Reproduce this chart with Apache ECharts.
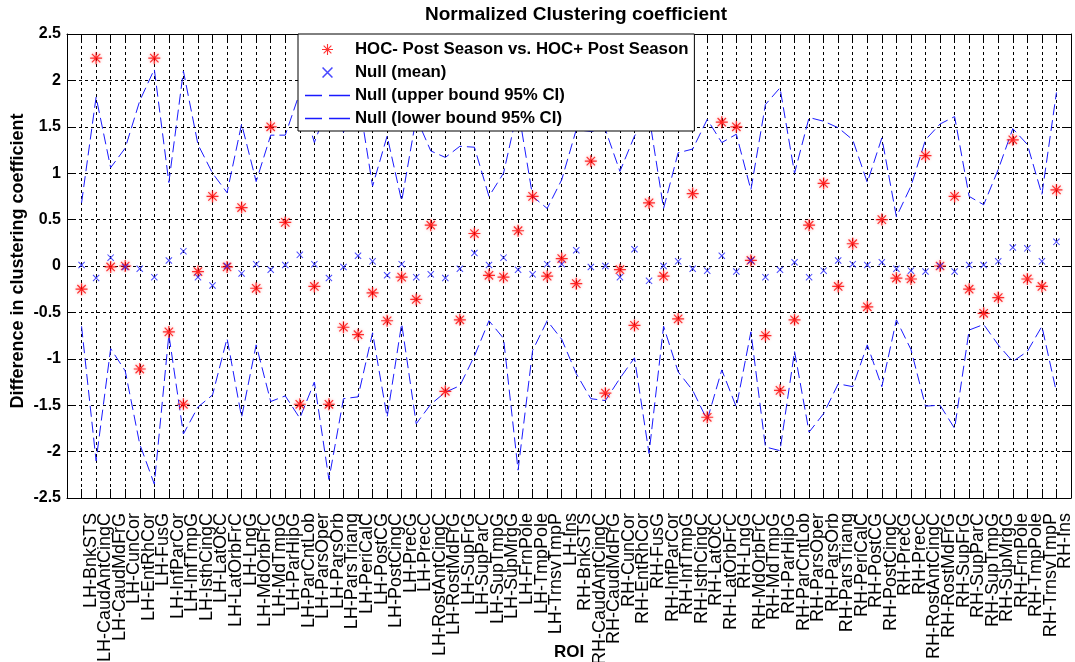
<!DOCTYPE html>
<html>
<head>
<meta charset="utf-8">
<title>Normalized Clustering coefficient</title>
<script src="https://cdn.jsdelivr.net/npm/echarts@6/dist/echarts.min.js"></script>
<style>
  html, body { margin: 0; padding: 0; background: #fff; }
  #chart { width: 1075px; height: 662px; }
</style>
</head>
<body>
<div id="chart"></div>
<script>
// ROI names (34 per hemisphere)
const regions = [
  'BnkSTS', 'CaudAntCingC', 'CaudMdFrG', 'CunCor', 'EntRhCor', 'FusG', 'InfParCor',
  'InfTmpG', 'IsthCingC', 'LatOcC', 'LatOrbFrC', 'LngG', 'MdOrbFrC', 'MdTmpG',
  'ParHipG', 'ParCntLob', 'ParsOper', 'ParsOrb', 'ParsTriang', 'PeriCalC', 'PostCG',
  'PostCingC', 'PrecG', 'PrecC', 'RostAntCingC', 'RostMdFrG', 'SupFrG', 'SupParC',
  'SupTmpG', 'SupMrgG', 'FrnPole', 'TmpPole', 'TrnsvTmpP', 'Ins'
]
const roiLabels = ['LH', 'RH'].flatMap((h) => regions.map((r) => h + '-' + r))

// HOC- Post Season vs. HOC+ Post Season
const hocDiff = [
  -0.25, 2.24, -0.01, 0.00, -1.11, 2.24, -0.71, -1.49, -0.06, 0.75, -0.01, 0.63, -0.24, 1.50,
  0.47, -1.49, -0.22, -1.49, -0.66, -0.74, -0.29, -0.59, -0.12, -0.36, 0.44, -1.35, -0.58, 0.35,
  -0.10, -0.12, 0.38, 0.75, -0.11, 0.08,
  -0.19, 1.13, -1.37, -0.04, -0.64, 0.68, -0.11, -0.57, 0.78, -1.63, 1.55, 1.50, 0.06, -0.75,
  -1.34, -0.58, 0.44, 0.89, -0.22, 0.24, -0.44, 0.50, -0.13, -0.14, 1.19, 0.00, 0.75, -0.25,
  -0.51, -0.34, 1.36, -0.14, -0.22, 0.82
]

// Null (mean)
const nullMean = [
  0.01, -0.13, 0.09, -0.01, -0.03, -0.12, 0.06, 0.16, -0.12, -0.21, 0.00, -0.08, 0.02, -0.04,
  0.01, 0.12, 0.02, -0.13, -0.01, 0.11, 0.05, -0.10, 0.02, -0.12, -0.09, -0.13, -0.03, 0.14,
  0.01, 0.09, -0.04, -0.09, 0.02, 0.02,
  0.17, -0.01, 0.00, -0.12, 0.18, -0.16, 0.00, 0.05, -0.03, -0.05, 0.11, -0.06, 0.06, -0.12,
  -0.04, 0.04, -0.12, -0.05, 0.06, 0.02, 0.01, 0.04, -0.03, -0.05, -0.06, 0.00, -0.06, 0.01,
  0.01, 0.05, 0.20, 0.19, 0.05, 0.26
]

// Null (upper bound 95% CI)
const nullUpper = [
  0.68, 1.82, 1.06, 1.27, 1.78, 2.12, 0.90, 2.10, 1.31, 1.00, 0.79, 1.53, 0.91, 1.41,
  1.41, 1.87, 1.33, 1.75, 1.44, 1.85, 0.86, 1.40, 0.70, 1.60, 1.24, 1.17, 1.29, 1.28,
  0.75, 1.00, 1.70, 0.75, 0.62, 0.93,
  1.47, 1.45, 1.47, 1.02, 1.40, 1.62, 0.62, 1.22, 1.26, 1.58, 1.33, 1.42, 0.82, 1.74,
  1.92, 1.00, 1.60, 1.56, 1.49, 1.36, 0.90, 1.38, 0.53, 0.86, 1.36, 1.53, 1.61, 0.75,
  0.66, 1.04, 1.48, 1.31, 0.77, 1.87
]

// Null (lower bound 95% CI)
const nullLower = [
  -0.65, -2.10, -0.89, -1.13, -1.92, -2.35, -0.74, -1.81, -1.52, -1.39, -0.78, -1.63, -0.85, -1.46,
  -1.40, -1.64, -1.25, -2.30, -1.43, -1.41, -0.72, -1.63, -0.62, -1.70, -1.49, -1.36, -1.29, -0.97,
  -0.59, -0.78, -2.20, -0.91, -0.59, -0.79,
  -1.16, -1.43, -1.45, -1.21, -0.99, -2.02, -0.65, -1.14, -1.34, -1.66, -1.12, -1.52, -0.71, -1.95,
  -1.99, -0.92, -1.79, -1.59, -1.27, -1.30, -0.85, -1.30, -0.58, -0.90, -1.51, -1.50, -1.75, -0.69,
  -0.63, -0.85, -1.03, -0.92, -0.65, -1.36
]

const yTicks = [-2.5, -2, -1.5, -1, -0.5, 0, 0.5, 1, 1.5, 2, 2.5]

const FONT = "'Liberation Sans', Arial, Helvetica, sans-serif"
// matlab-ish '*' and 'x' markers, plus a two-dash legend icon
const starPath = 'path://M-1,-10L1,-10L1,10L-1,10Z M-10,-1L10,-1L10,1L-10,1Z ' +
  'M-6.3,-7.7L7.7,6.3L6.3,7.7L-7.7,-6.3Z M6.3,-7.7L7.7,-6.3L-6.3,7.7L-7.7,6.3Z'
const crossPath = 'path://M-8,-10L10,8L8,10L-10,-8Z M8,-10L10,-8L-8,10L-10,8Z'
const dashIcon = 'path://M0,0L17,0L17,1.3L0,1.3Z M24,0L45,0L45,1.3L24,1.3Z'

const toPoints = (arr) => arr.map((v, i) => [i + 1, v])

const chart = echarts.init(document.getElementById('chart'))

const xCommon = {
  type: 'value',
  min: 0,
  max: roiLabels.length + 1,
  interval: 1,
  axisLine: { show: true, onZero: false, lineStyle: { color: '#000', width: 1 } },
  axisTick: { show: true, inside: true, length: 9, lineStyle: { color: '#000' } },
}
const yCommon = {
  type: 'value',
  min: yTicks[0],
  max: yTicks[yTicks.length - 1],
  interval: 0.5,
  axisLine: { show: true, onZero: false, lineStyle: { color: '#000', width: 1 } },
  axisTick: { show: true, inside: true, length: 9, lineStyle: { color: '#000' } },
}

chart.setOption({
  animation: false,
  backgroundColor: '#fff',
  title: {
    text: 'Normalized Clustering coefficient',
    left: 571,
    textAlign: 'center',
    top: 0,
    textStyle: { fontFamily: FONT, fontSize: 19, fontWeight: 'bold', color: '#000' },
  },
  legend: {
    orient: 'vertical',
    left: 298,
    top: 34,
    padding: [7, 6, 4, 7],
    itemGap: 6,
    itemWidth: 45,
    itemHeight: 11,
    backgroundColor: '#fff',
    borderColor: '#000',
    borderWidth: 1,
    selectedMode: false,
    textStyle: { fontFamily: FONT, fontSize: 16.8, fontWeight: 'bold', color: '#000', lineHeight: 17 },
    data: [
      { name: 'HOC- Post Season vs. HOC+ Post Season' },
      { name: 'Null (mean)' },
      { name: 'Null (upper bound 95% CI)', icon: dashIcon },
      { name: 'Null (lower bound 95% CI)', icon: dashIcon },
    ],
  },
  grid: { left: 67, right: 4, top: 34, bottom: 164, containLabel: false, outerBoundsMode: 'none' },
  xAxis: [
    {
      ...xCommon,
      position: 'bottom',
      name: 'ROI',
      nameLocation: 'middle',
      nameGap: 146,
      nameMoveOverlap: false,
      nameTextStyle: { fontFamily: FONT, fontSize: 17, fontWeight: 'bold', color: '#000' },
      axisLabel: {
        rotate: 90,
        margin: 15,
        verticalAlign: 'top',
        lineHeight: 18,
        fontFamily: FONT,
        fontSize: 18,
        color: '#000',
        formatter: (v) => roiLabels[v - 1] || '',
      },
      splitLine: { show: true, lineStyle: { color: '#000', type: [3, 3], width: 1 } },
    },
    {
      ...xCommon,
      position: 'top',
      axisLabel: { show: false },
      splitLine: { show: false },
    },
  ],
  yAxis: [
    {
      ...yCommon,
      position: 'left',
      name: 'Difference in clustering coefficient',
      nameLocation: 'middle',
      nameGap: 40,
      nameMoveOverlap: false,
      nameTextStyle: {
        fontFamily: FONT, fontSize: 18, fontWeight: 'bold', color: '#000',
        padding: [0, 0, 0, 10],
      },
      axisLabel: {
        margin: 6,
        fontFamily: FONT,
        fontSize: 16,
        fontWeight: 'bold',
        color: '#000',
      },
      splitLine: { show: true, lineStyle: { color: '#000', type: [3, 3], width: 1 } },
    },
    {
      ...yCommon,
      position: 'right',
      axisLabel: { show: false },
      splitLine: { show: false },
    },
  ],
  series: [
    {
      name: 'HOC- Post Season vs. HOC+ Post Season',
      type: 'scatter',
      symbol: starPath,
      symbolSize: 12,
      itemStyle: { color: '#ff0000', shadowBlur: 3, shadowColor: 'rgba(255,0,0,0.45)' },
      data: toPoints(hocDiff),
      z: 3,
    },
    {
      name: 'Null (mean)',
      type: 'scatter',
      symbol: crossPath,
      symbolSize: 7,
      itemStyle: { color: '#1a1aff' },
      data: toPoints(nullMean),
      z: 3,
    },
    {
      name: 'Null (upper bound 95% CI)',
      type: 'line',
      symbol: 'none',
      lineStyle: { color: '#1a1aff', width: 1, type: [11, 5] },
      itemStyle: { color: '#1a1aff' },
      data: toPoints(nullUpper),
      z: 2,
    },
    {
      name: 'Null (lower bound 95% CI)',
      type: 'line',
      symbol: 'none',
      lineStyle: { color: '#1a1aff', width: 1, type: [11, 5] },
      itemStyle: { color: '#1a1aff' },
      data: toPoints(nullLower),
      z: 2,
    },
  ],
})
</script>
</body>
</html>
